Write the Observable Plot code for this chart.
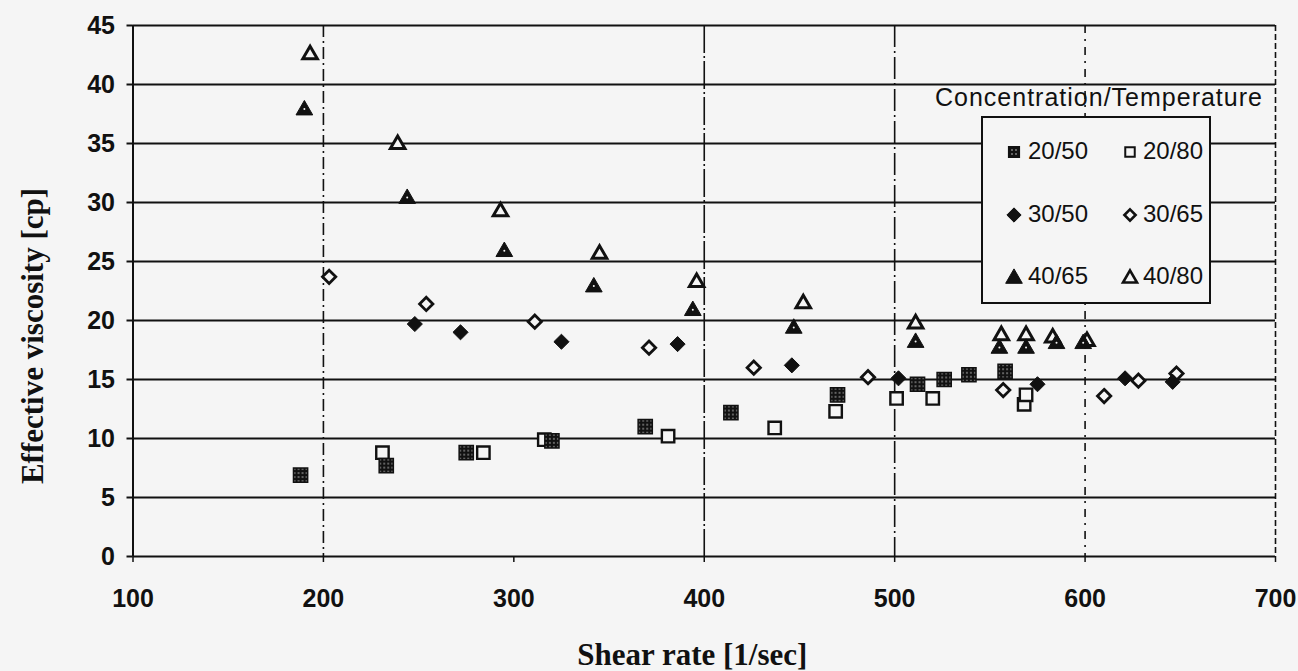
<!DOCTYPE html>
<html><head><meta charset="utf-8">
<script src="https://cdn.jsdelivr.net/npm/d3@7"></script>
<script src="https://cdn.jsdelivr.net/npm/@observablehq/plot@0.6"></script>
<style>
html,body{margin:0;padding:0;background:#f5f5f5;}
#wrap{position:relative;width:1298px;height:671px;overflow:hidden;}
#legend-title{position:absolute;left:935px;top:82px;font:25px "Liberation Sans",Arial,sans-serif;letter-spacing:1px;color:#111;white-space:nowrap;line-height:30px;}
#legend{position:absolute;left:981px;top:116px;width:230px;height:188px;border:2px solid #111;background:#f5f5f5;box-sizing:border-box;}
.li{position:absolute;font:24px "Liberation Sans Narrow","Arial Narrow",sans-serif;color:#111;line-height:24px;white-space:nowrap;}
.ls{position:absolute;overflow:visible;}
</style></head><body><div id="wrap"></div>
<script>
// ---- data ----
const seriesNames = ["20/50", "20/80", "30/50", "30/65", "40/65", "40/80"];
const x2050 = [188, 233, 275, 320, 369, 414, 470, 512, 526, 539, 558];
const y2050 = [6.9, 7.7, 8.8, 9.8, 11.0, 12.2, 13.7, 14.6, 15.0, 15.4, 15.7];
const x2080 = [231, 284, 316, 381, 437, 469, 501, 520, 568, 569];
const y2080 = [8.8, 8.8, 9.9, 10.2, 10.9, 12.3, 13.4, 13.4, 12.9, 13.7];
const x3050 = [248, 272, 325, 386, 446, 502, 575, 621, 646];
const y3050 = [19.7, 19.0, 18.2, 18.0, 16.2, 15.1, 14.6, 15.1, 14.8];
const x3065 = [203, 254, 311, 371, 426, 486, 557, 610, 628, 648];
const y3065 = [23.7, 21.4, 19.9, 17.7, 16.0, 15.2, 14.1, 13.6, 14.9, 15.5];
const x4065 = [190, 244, 295, 342, 394, 447, 511, 555, 569, 585, 599];
const y4065 = [38.0, 30.5, 26.0, 23.0, 21.0, 19.5, 18.3, 17.8, 17.8, 18.2, 18.2];
const x4080 = [193, 239, 293, 345, 396, 452, 511, 556, 569, 583, 601];
const y4080 = [42.7, 35.1, 29.4, 25.8, 23.4, 21.6, 19.9, 18.9, 18.9, 18.7, 18.4];

const xTicks = [100, 200, 300, 400, 500, 600, 700];
const yTicks = [0, 5, 10, 15, 20, 25, 30, 35, 40, 45];
const xTitle = "Shear rate [1/sec]";
const yTitle = "Effective viscosity [cp]";
const legendTitle = "Concentration/Temperature";

// ---- table ----
const xs = [x2050, x2080, x3050, x3065, x4065, x4080];
const ys = [y2050, y2080, y3050, y3065, y4065, y4080];
const data = seriesNames.flatMap((s, i) => xs[i].map((x, j) => ({series: s, x, y: ys[i][j]})));
const of = s => data.filter(d => d.series === s);

const bg = "#f5f5f5", ink = "#111";
const tickFont = {fontSize: 25, fontWeight: "bold", fontFamily: "'Liberation Sans Narrow','Arial Narrow',sans-serif"};
const titleFont = {fontSize: 31, fontWeight: "bold", fontFamily: "'Liberation Serif','Times New Roman',serif"};

const chart = Plot.plot({
  width: 1298, height: 671,
  marginLeft: 132.5, marginRight: 23, marginTop: 25, marginBottom: 115,
  style: {background: bg, color: ink, overflow: "visible"},
  x: {domain: [100, 700]},
  y: {domain: [0, 45]},
  marks: [
    Plot.ruleY(yTicks, {stroke: ink, strokeWidth: 2}),
    Plot.ruleX([200], {stroke: ink, strokeWidth: 1.6, strokeDasharray: "12,4,2,4"}),
    Plot.ruleX([400], {stroke: ink, strokeWidth: 1.6, strokeDasharray: "28,3,2,3"}),
    Plot.ruleX([500], {stroke: ink, strokeWidth: 1.6, strokeDasharray: "22,4,2,4"}),
    Plot.ruleX([600], {stroke: ink, strokeWidth: 1.6, strokeDasharray: "8,6,2,6"}),
    Plot.ruleX([700], {stroke: ink, strokeWidth: 1.6, strokeDasharray: "6,3"}),
    Plot.ruleX([100], {stroke: ink, strokeWidth: 2}),
    Plot.axisY({ticks: yTicks, tickSize: 6, tickPadding: 12, strokeWidth: 2, label: null, ...tickFont}),
    Plot.axisX({ticks: xTicks, tickSize: 6, tickPadding: 27, strokeWidth: 1.5, label: null, ...tickFont}),
    Plot.text([yTitle], {text: d => d, frameAnchor: "left", textAnchor: "middle", lineAnchor: "middle", rotate: -90, dx: -100, dy: 45, ...titleFont}),
    Plot.text([xTitle], {text: d => d, frameAnchor: "bottom", textAnchor: "middle", lineAnchor: "middle", dx: -12, dy: 99, ...titleFont}),
    // series
    Plot.dot(of("20/80"), {x: "x", y: "y", symbol: "square", r: 7, fill: bg, stroke: ink, strokeWidth: 2.4}),
    Plot.dot(of("20/50"), {x: "x", y: "y", symbol: "square", r: 8, fill: "url(#speck)", stroke: ink, strokeWidth: 1.5}),
    Plot.dot(of("30/65"), {x: "x", y: "y", symbol: "diamond2", r: 6, fill: bg, stroke: ink, strokeWidth: 2.8}),
    Plot.dot(of("30/50"), {x: "x", y: "y", symbol: "diamond2", r: 6.8, fill: ink, stroke: ink, strokeWidth: 1}),
    Plot.dot(of("40/80"), {x: "x", y: "y", symbol: "triangle", r: 5.4, dy: 2, fill: bg, stroke: ink, strokeWidth: 3}),
    Plot.dot(of("40/65"), {x: "x", y: "y", symbol: "triangle", r: 6.2, dy: 2, fill: ink, stroke: ink, strokeWidth: 1}),
    Plot.dot(of("40/65"), {x: "x", y: "y", r: 1, dy: 1, fill: bg})
  ]
});

// speckle pattern for the 20/50 squares
const ns = "http://www.w3.org/2000/svg";
const defs = document.createElementNS(ns, "defs");
defs.innerHTML = '<pattern id="speck" width="4" height="4" patternUnits="userSpaceOnUse">' +
  '<rect width="4" height="4" fill="#111"/><circle cx="2" cy="2" r="0.7" fill="#eee"/></pattern>';
chart.insertBefore(defs, chart.firstChild);

const wrap = document.getElementById("wrap");
wrap.appendChild(chart);

// legend (overlay)
const lt = document.createElement("div");
lt.id = "legend-title"; lt.textContent = legendTitle;
wrap.appendChild(lt);
const lg = document.createElement("div");
lg.id = "legend";
wrap.appendChild(lg);
const symStyle = {
  "20/50": {type: d3.symbolSquare, size: 120, fill: "url(#speck2)", stroke: ink, sw: 1.2},
  "20/80": {type: d3.symbolSquare, size: 90, fill: bg, stroke: ink, sw: 2},
  "30/50": {type: d3.symbolDiamond2, size: 130, fill: ink, stroke: ink, sw: 1},
  "30/65": {type: d3.symbolDiamond2, size: 80, fill: bg, stroke: ink, sw: 2.6},
  "40/65": {type: d3.symbolTriangle, size: 120, fill: ink, stroke: ink, sw: 1},
  "40/80": {type: d3.symbolTriangle, size: 85, fill: bg, stroke: ink, sw: 2.6}
};
seriesNames.forEach((s, i) => {
  const col = i % 2, row = Math.floor(i / 2);
  const cx = col === 0 ? 31 : 147, cy = 34 + row * 62.5;
  const st = symStyle[s];
  const svg = document.createElementNS(ns, "svg");
  svg.setAttribute("class", "ls");
  svg.setAttribute("width", 20); svg.setAttribute("height", 20);
  svg.style.left = (cx - 10) + "px"; svg.style.top = (cy - 10) + "px";
  if (i === 0) {
    svg.innerHTML = '<defs><pattern id="speck2" width="4" height="4" patternUnits="userSpaceOnUse">' +
      '<rect width="4" height="4" fill="#111"/><circle cx="2" cy="2" r="0.7" fill="#eee"/></pattern></defs>';
  }
  const p = document.createElementNS(ns, "path");
  p.setAttribute("d", d3.symbol(st.type, st.size)());
  p.setAttribute("transform", `translate(10,${st.type === d3.symbolTriangle ? 11.5 : 10})`);
  p.setAttribute("fill", st.fill); p.setAttribute("stroke", st.stroke); p.setAttribute("stroke-width", st.sw);
  svg.appendChild(p);
  lg.appendChild(svg);
  const t = document.createElement("div");
  t.className = "li"; t.textContent = s;
  t.style.left = (col === 0 ? 45 : 160) + "px"; t.style.top = (cy - 13) + "px";
  lg.appendChild(t);
});
</script>
</body></html>
